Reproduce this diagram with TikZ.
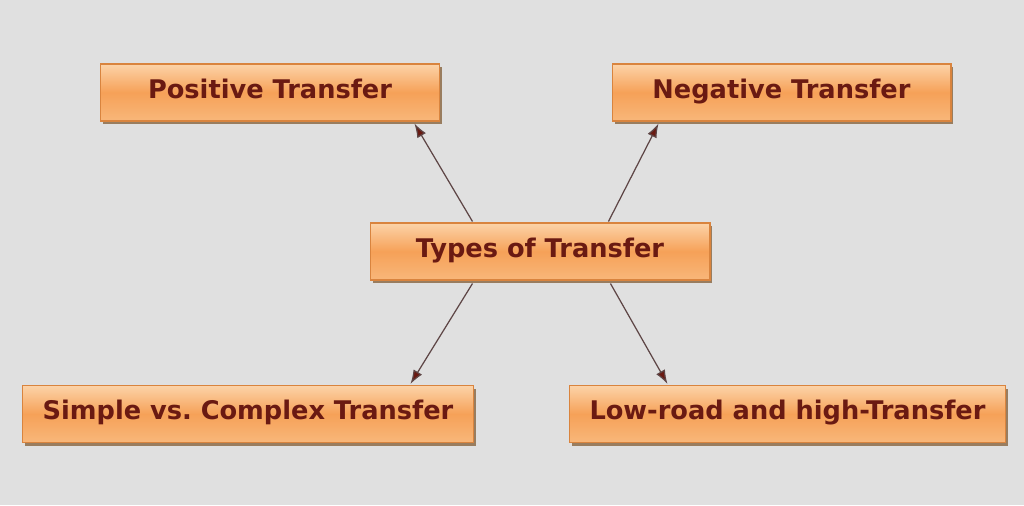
\documentclass[tikz,border=0pt]{standalone}
\usepackage{fontspec}
\setmainfont{DejaVu Sans}
\usetikzlibrary{arrows.meta,shadows}
\definecolor{bgcol}{HTML}{E0E0E0}
\definecolor{boxtop}{HTML}{FCD3A8}
\definecolor{boxmid}{HTML}{F6A158}
\definecolor{boxbot}{HTML}{F8B77A}
\definecolor{boxline}{HTML}{D9843E}
\definecolor{txtcol}{HTML}{6A1A12}
\definecolor{arrcol}{HTML}{5E4646}
\tikzset{
    typebox/.style={draw=boxline, line width=0.6pt, top color=boxtop, bottom color=boxbot,
        middle color=boxmid, minimum height=1.14cm, inner sep=0pt,
        text height=0.36cm, text depth=0.14cm,
        font=\fontsize{14.6}{16}\selectfont\bfseries, text=txtcol,
        drop shadow={shadow xshift=0.05cm, shadow yshift=-0.06cm, fill=black!35!brown, opacity=0.7}},
    link/.style={draw=arrcol, line width=0.7pt, -{Latex[length=0.28cm, width=0.2cm, fill=txtcol]}}
}
\begin{document}
\begin{tikzpicture}[x=0.02cm, y=-0.02cm]
        \fill[bgcol] (0,0) rectangle (1024,505);
        \useasboundingbox (0,0) rectangle (1024,505);

        \node[typebox, minimum width=6.8cm] (types) at (540,251.5) {Types of Transfer};
        \node[typebox, minimum width=6.8cm] (pos) at (270,92.5) {Positive Transfer};
        \node[typebox, minimum width=6.78cm] (neg) at (781.5,92.5) {Negative Transfer};
        \node[typebox, minimum width=9.04cm] (simple) at (248,414) {Simple vs.\ Complex Transfer};
        \node[typebox, minimum width=8.74cm] (low) at (787.5,414) {Low-road and high-Transfer};

        \draw[link] ([xshift=2.06cm, yshift=0.02cm]types.north west) -- ([xshift=6.3cm, yshift=-0.04cm]pos.south west);
        \draw[link] ([xshift=4.78cm, yshift=0.02cm]types.north west) -- ([xshift=0.94cm, yshift=-0.04cm]neg.south west);
        \draw[link] ([xshift=2.06cm, yshift=-0.06cm]types.south west) -- ([xshift=7.78cm, yshift=0.02cm]simple.north west);
        \draw[link] ([xshift=4.82cm, yshift=-0.06cm]types.south west) -- ([xshift=1.98cm, yshift=0.02cm]low.north west);
    \end{tikzpicture}
\end{document}
